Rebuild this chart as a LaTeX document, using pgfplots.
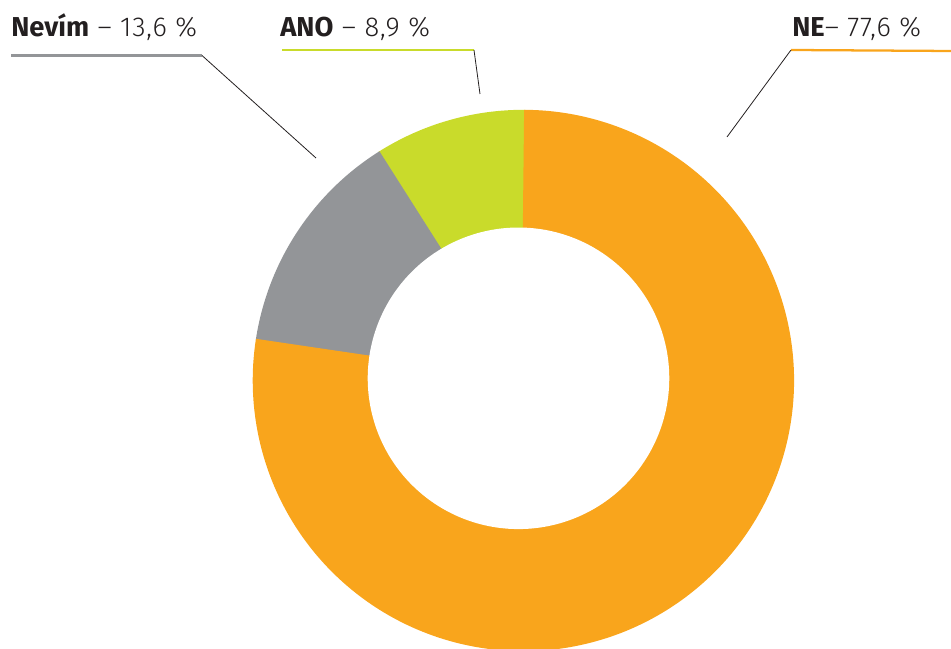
\documentclass[border=0pt]{standalone}
\usepackage{pgfplots}
\pgfplotsset{compat=1.18}
\usepackage{fontspec}
\setmainfont{Fira Sans}
\newfontfamily\light{Fira Sans Light}[LetterSpace=3]

\definecolor{cNE}{HTML}{F9A51C}
\definecolor{cANO}{HTML}{C9DB2B}
\definecolor{cNEV}{HTML}{939598}
\definecolor{ctext}{HTML}{231F20}

\tikzset{lbl/.style={anchor=base west, inner sep=0, text=ctext,
    font=\fontsize{20.5}{24}\selectfont}}

% shares in percent
\def\ano{8.9}
\def\nevim{13.6}
\def\ne{77.6}

\begin{document}
\begin{tikzpicture}
\pgfmathsetmacro\aA{90}
\pgfmathsetmacro\aB{\aA+\ano*3.6}
\pgfmathsetmacro\aC{\aB+\nevim*3.6}
\pgfmathsetmacro\aD{\aA+360}
\begin{axis}[
    x=0.75pt, y=0.75pt,
    xmin=0, xmax=951, ymin=0, ymax=649,
    hide axis,
    clip=true,
    every axis plot/.append style={line cap=butt},
]
% donut slices (thick arcs around the centre 523.4,268.5)
\addplot[cANO, line width=98pt, domain=\aA-0.5:\aB+0.5, samples=40, smooth]
    ({523.4+205.35*cos(x)}, {268.5+205.35*sin(x)});
\addplot[cNEV, line width=98pt, domain=\aB:\aC+0.5, samples=50, smooth]
    ({523.4+205.35*cos(x)}, {268.5+205.35*sin(x)});
\addplot[cNE, line width=98pt, domain=\aC:\aD, samples=180, smooth]
    ({523.4+205.35*cos(x)}, {268.5+205.35*sin(x)});
% hole
\addplot[fill=white, draw=none, domain=0:360, samples=120, smooth]
    ({518.5+150.8*cos(x)}, {270.7+150.8*sin(x)}) -- cycle;

% underlines
\addplot[cNEV, line width=1.9pt] coordinates {(11,593.5) (202,593.5)};
\addplot[cANO, line width=1.7pt] coordinates {(282,599) (474,599)};
\addplot[cNE, line width=1.7pt] coordinates {(791,599) (951,598)};
% leader lines
\addplot[ctext, line width=0.6pt] coordinates {(202,593.5) (316,491)};
\addplot[ctext, line width=0.6pt] coordinates {(474,599) (480,555)};
\addplot[ctext, line width=0.6pt] coordinates {(791,599) (727,512)};

\node[lbl] at (axis cs:11,612) {\textbf{Nevím}{\light\ – 13,6 \%}};
\node[lbl] at (axis cs:280,612) {\textbf{ANO}{\light\ – 8,9 \%}};
\node[lbl] at (axis cs:792,612) {\textbf{NE}{\light – 77,6 \%}};
\end{axis}
\pgfresetboundingbox
\path (0,0) rectangle (713.25pt,486.75pt);
\end{tikzpicture}
\end{document}
